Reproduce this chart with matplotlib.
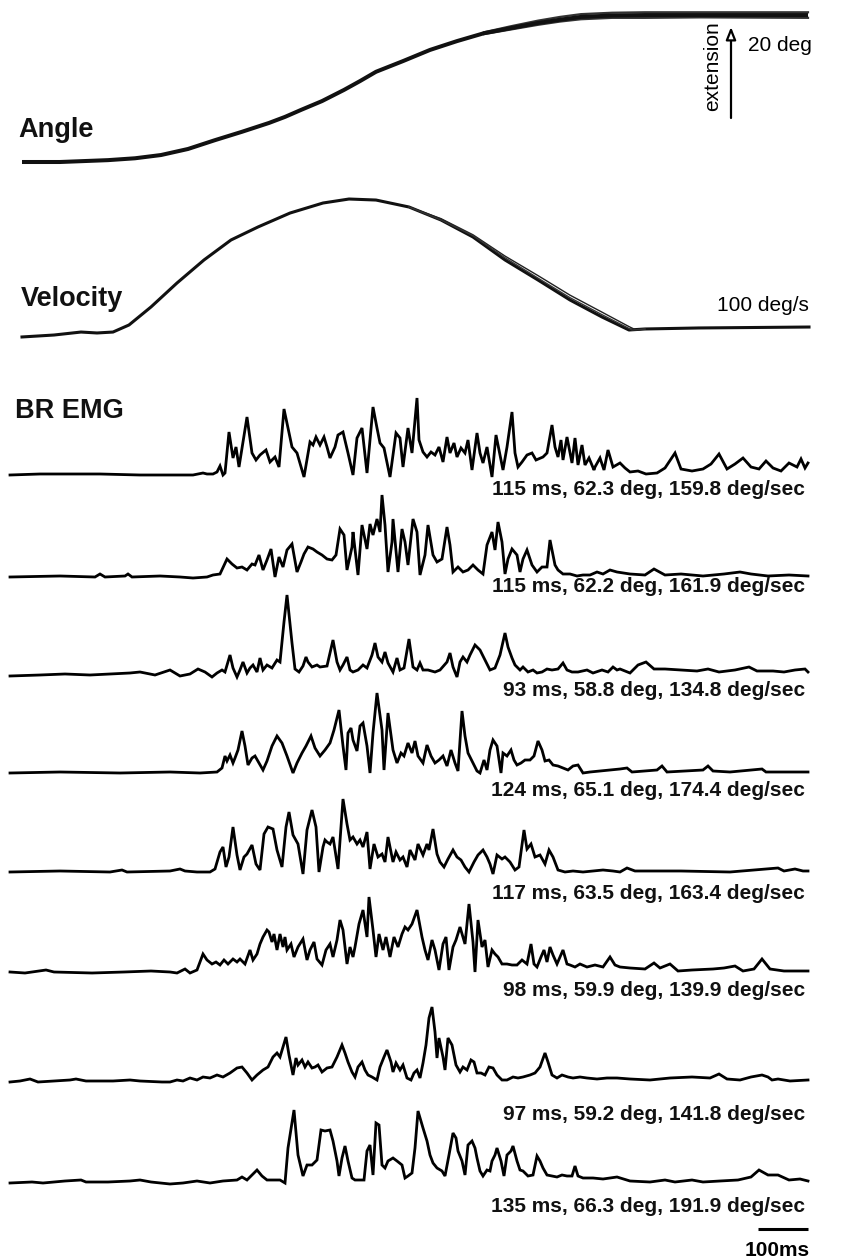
import matplotlib
matplotlib.use("Agg")
import matplotlib.pyplot as plt

plt.rcParams["font.family"] = ["Liberation Sans", "DejaVu Sans"]

# ---- kinematics (time in ms, angle in deg, velocity in deg/s) ----
angle_t = [24, 100, 196, 250, 302, 356, 410, 464, 518, 550, 582, 624, 668, 700, 732,
           786, 840, 894, 948, 1002, 1056, 1100, 1142, 1204, 1270, 1380, 1596]
angle_deg = [0, 0, 0.4, 0.8, 1.5, 2.8, 4.7, 6.5, 8.4, 9.7, 11.2, 13.1, 15.5, 17.4, 19.4,
             21.7, 24.1, 26.0, 27.7, 28.8, 29.9, 30.6, 31.2, 31.5, 31.6, 31.6, 31.6]
# other trials, only where they separate (end of movement / plateau)
angle2_t = [948, 1002, 1056, 1100, 1142, 1204, 1270, 1380, 1596]
angle2_deg = [27.9, 29.2, 30.4, 31.2, 31.8, 32.1, 32.2, 32.2, 32.2]
angle3_t = [948, 1002, 1056, 1100, 1142, 1204, 1270, 1380, 1596]
angle3_deg = [27.5, 28.5, 29.5, 30.2, 30.7, 31.0, 31.0, 31.1, 31.0]

vel_t = [24, 88, 142, 174, 206, 238, 282, 334, 388, 442, 496, 560, 626, 678, 732,
         798, 862, 926, 990, 1056, 1120, 1184, 1238, 1270, 1378, 1598]
vel_dps = [-8.2, -5.9, -2.4, -3.5, -2.4, 5.9, 27.1, 55.3, 82.4, 105.9, 121.2, 137.6, 149.4,
           154.1, 152.9, 144.7, 129.4, 109.4, 82.4, 58.8, 35.3, 15.3, 0, 1.2, 2.4, 3.5]
vel2_t = [798, 862, 926, 990, 1056, 1120, 1184, 1238, 1252, 1270]
vel2_dps = [144.7, 131, 112, 87, 64, 41, 21, 4, 0, 1.2]
vel3_t = [798, 862, 926, 990, 1056, 1120, 1184, 1244, 1270]
vel3_dps = [144.7, 129.4, 111, 85, 61, 38, 18, 0, 1.2]

# ---- rectified BR EMG, 8 trials (time in ms, amplitude in a.u.) ----
emg1_t = [0, 60, 180, 260, 340, 366, 386, 394, 406, 414, 420, 426, 430, 438, 446, 452, 458, 474, 484, 492,
          500, 512, 520, 530, 538, 548, 564, 574, 588, 600, 606, 612, 620, 628, 634, 640, 650, 656, 666, 676,
          686, 694, 704, 714, 726, 734, 740, 748, 760, 772, 780, 786, 796, 804, 814, 818, 826, 834, 842, 850,
          858, 866, 874, 880, 888, 894, 902, 910, 916, 924, 934, 940, 946, 954, 964, 972, 978, 986, 994, 1004,
          1010, 1016, 1024, 1034, 1044, 1052, 1066, 1074, 1084, 1090, 1096, 1102, 1106, 1114, 1124, 1130, 1136,
          1144, 1150, 1158, 1168, 1170, 1180, 1188, 1196, 1206, 1220, 1230, 1240, 1256, 1272, 1294, 1310, 1330,
          1342, 1364, 1386, 1402, 1418, 1434, 1450, 1466, 1482, 1498, 1512, 1526, 1542, 1558, 1574, 1582, 1590,
          1596]
emg1_a = [0, 1, 1, 0, 0, 0, 2, 1, 1, 3, 9, 0, 2, 43, 17, 28, 8, 58, 22, 15,
          20, 25, 13, 18, 8, 66, 28, 22, -2, 33, 30, 38, 30, 38, 28, 17, 28, 40, 43, 22,
          0, 37, 47, 2, 68, 47, 32, 27, -2, 42, 37, 8, 47, 22, 77, 35, 23, 18, 23, 20,
          28, 13, 38, 22, 32, 18, 27, 22, 35, 5, 42, 22, 12, 28, -2, 40, 25, 5, 28, 63,
          22, 8, 13, 20, 22, 15, 18, 22, 50, 28, 18, 35, 15, 38, 12, 37, 10,
          30, 10, 17, 5, 8, 17, 5, 25, 8, 12, 7, 3, 4, 1, 2, 7, 22,
          6, 4, 6, 11, 21, 6, 11, 17, 8, 6, 14, 7, 4, 12, 8, 16, 7,
          12]

emg2_t = [0, 100, 170, 180, 190, 230, 236, 244, 300, 340, 366, 394, 406, 420, 434, 444, 454, 464, 474, 484,
          490, 498, 506, 514, 522, 530, 538, 546, 554, 564, 574, 582, 588, 596, 606, 614, 624, 634, 644, 652,
          660, 668, 674, 684, 686, 696, 704, 714, 720, 726, 734, 740, 744, 750, 756, 764, 766, 776, 784, 790,
          796, 806, 814, 820, 830, 836, 846, 854, 864, 874, 880, 886, 896, 906, 916, 926, 936, 946, 954, 964,
          970, 976, 984, 990, 996, 1004, 1014, 1020, 1026, 1034, 1044, 1054, 1064, 1074, 1080, 1090, 1096, 1106,
          1120, 1134, 1146, 1160, 1174, 1186, 1200, 1214, 1240, 1270, 1288, 1310, 1342, 1386, 1428, 1460, 1482,
          1516, 1558, 1596]
emg2_a = [0, 1, 0, 3, 0, 1, 3, 0, 1, 0, -1, 0, 2, 3, 18, 13, 9, 10, 7, 13,
          12, 22, 7, 17, 28, 0, 20, 10, 27, 33, 5, 15, 23, 30, 28, 25, 22, 18, 17, 22,
          48, 42, 7, 30, 45, 2, 52, 28, 53, 42, 58, 45, 82, 52, 5, 35, 58, 5, 48, 35,
          12, 58, 45, 2, 22, 52, 22, 15, 18, 50, 32, 5, 10, 5, 7, 12, 7, 3, 32, 45,
          27, 55, 35, 3, 18, 28, 22, 5, 18, 27, 12, 5, 10, 10, 37, 12, 7, 3,
          3, 1, 2, 2, 5, 3, 7, 5, 3, 2, 8, 2, 3, 1, 3, 5, 3,
          1, 2, 1]

emg3_t = [0, 60, 110, 160, 240, 260, 290, 320, 340, 360, 376, 390, 404, 414, 424, 430, 440, 446, 454, 460,
          466, 474, 480, 486, 494, 500, 506, 514, 524, 534, 540, 548, 554, 564, 570, 578, 586, 592, 596, 604,
          614, 620, 634, 646, 654, 660, 666, 674, 680, 686, 696, 706, 714, 724, 730, 736, 744, 750, 756, 766,
          774, 780, 788, 798, 806, 814, 820, 826, 836, 850, 860, 874, 880, 886, 894, 900, 906, 914, 920, 930,
          940, 950, 960, 970, 980, 990, 996, 1004, 1010, 1020, 1026, 1036, 1046, 1054, 1064, 1074, 1084, 1096,
          1106, 1114, 1124, 1136, 1154, 1166, 1184, 1196, 1206, 1214, 1220, 1240, 1256, 1272, 1288, 1310, 1342,
          1374, 1396, 1418, 1450, 1478, 1494, 1526, 1548, 1570, 1590, 1596]
emg3_a = [0, 1, 2, 1, 3, 4, 1, 6, 0, 2, 7, 4, -1, 3, 6, 4, 21, 8, -1, 6,
          14, 3, 8, 11, 4, 18, 6, 11, 8, 16, 14, 54, 81, 33, 7, 4, 10, 19, 14, 9,
          11, 9, 10, 36, 14, 6, 11, 19, 6, 4, 6, 11, 8, 21, 33, 19, 14, 24, 13, 4,
          18, 6, 8, 37, 9, 6, 13, 6, 6, 4, 6, 14, 23, 9, -1, 14, 19, 14, 21, 31,
          26, 16, 6, 8, 21, 43, 29, 18, 11, 6, 9, 4, 6, 3, 4, 7, 6, 7,
          13, 6, 4, 4, 6, 3, 6, 4, 9, 6, 7, 3, 11, 14, 7, 7, 6,
          5, 7, 4, 6, 9, 5, 5, 4, 6, 7, 4]

emg4_t = [0, 100, 220, 320, 380, 414, 424, 430, 434, 440, 446, 450, 456, 464, 470, 476, 484, 490, 498, 506,
          514, 524, 534, 544, 554, 566, 574, 584, 592, 602, 610, 620, 630, 640, 648, 658, 666, 672, 676, 682,
          686, 694, 700, 706, 714, 720, 726, 734, 744, 748, 756, 766, 774, 782, 788, 796, 804, 810, 816, 826,
          834, 842, 850, 858, 866, 874, 882, 890, 896, 904, 910, 916, 926, 934, 940, 948, 954, 960, 966, 974,
          982, 986, 994, 1002, 1008, 1014, 1022, 1030, 1040, 1048, 1056, 1064, 1070, 1078, 1086, 1096, 1106,
          1116, 1126, 1136, 1146, 1160, 1180, 1200, 1220, 1234, 1244, 1294, 1304, 1314, 1386, 1396, 1406, 1440,
          1504, 1512, 1596]
emg4_a = [0, 1, 0, 1, 0, 1, 5, 17, 12, 18, 10, 15, 23, 42, 27, 8, 15, 17, 10, 3,
          12, 27, 37, 30, 17, 0, 10, 20, 27, 37, 25, 17, 23, 30, 43, 63, 27, 3, 40, 45,
          33, 22, 47, 50, 27, 0, 40, 80, 43, 3, 60, 23, 10, 20, 17, 30, 20, 32, 17, 10,
          28, 17, 10, 13, 17, 7, 23, 10, 2, 62, 37, 20, 10, 2, 0, 13, 3, 23, 33, 27,
          0, 20, 17, 23, 13, 8, 10, 13, 13, 17, 32, 23, 12, 13, 8, 7, 5,
          3, 7, 8, 0, 1, 2, 3, 4, 5, 1, 3, 7, 1, 3, 7, 2, 1,
          4, 1, 1]

emg5_t = [0, 100, 200, 224, 234, 320, 340, 350, 374, 400, 410, 420, 426, 432, 438, 446, 454, 460, 468, 474,
          484, 492, 500, 508, 516, 526, 534, 544, 552, 558, 566, 576, 586, 594, 604, 612, 618, 626, 630, 634,
          640, 646, 656, 666, 674, 680, 686, 694, 700, 706, 714, 720, 728, 736, 744, 750, 756, 766, 772, 780,
          786, 794, 800, 810, 816, 826, 834, 838, 846, 854, 860, 868, 876, 886, 894, 902, 910, 918, 928, 936,
          946, 954, 960, 966, 974, 984, 990, 1000, 1010, 1018, 1028, 1034, 1042, 1050, 1060, 1070, 1078, 1086,
          1096, 1110, 1126, 1146, 1166, 1186, 1206, 1220, 1234, 1250, 1342, 1440, 1536, 1548, 1570, 1586, 1596]
emg5_a = [0, 1, 0, 2, 0, 1, 3, 1, 0, 0, 3, 20, 25, 5, 15, 45, 17, 2, 15, 18,
          27, 8, 2, 38, 45, 43, 22, 5, 45, 60, 37, 28, -2, 42, 62, 45, 0, 25, 32, 30,
          28, 35, 3, 73, 48, 32, 35, 28, 32, 25, 40, 3, 28, 15, 18, 10, 35, 10, 20, 12,
          15, 5, 22, 12, 28, 17, 28, 22, 43, 18, 10, 5, 13, 22, 15, 12, 5, 0, 10, 17,
          22, 15, 8, -2, 17, 13, 15, 10, 2, 5, 42, 23, 28, 15, 17, 8, 22, 15,
          2, 0, 1, 0, 1, 2, 1, 0, 4, 1, 1, 0, 4, 1, 3, 1, 1]

emg6_t = [0, 30, 72, 88, 164, 228, 282, 320, 334, 350, 360, 374, 386, 394, 404, 412, 420, 428, 436, 446,
          454, 460, 470, 480, 486, 494, 500, 506, 514, 518, 524, 528, 534, 540, 546, 550, 554, 562, 568, 576,
          586, 594, 600, 608, 614, 624, 632, 640, 646, 654, 660, 666, 674, 680, 686, 690, 698, 706, 714, 718,
          726, 732, 738, 746, 752, 760, 768, 776, 784, 790, 796, 804, 814, 824, 830, 836, 844, 850, 858, 866,
          872, 878, 886, 892, 900, 910, 918, 926, 930, 936, 944, 950, 956, 964, 970, 976, 984, 994, 1004, 1014,
          1024, 1034, 1042, 1048, 1054, 1062, 1068, 1074, 1080, 1086, 1094, 1100, 1106, 1114, 1120, 1130, 1140,
          1154, 1170, 1186, 1200, 1210, 1220, 1240, 1270, 1288, 1300, 1320, 1336, 1364, 1406, 1428, 1450, 1466,
          1488, 1504, 1520, 1548, 1596]
emg6_a = [0, -1, 2, 0, -1, 0, 1, 0, -1, 3, -1, 2, 18, 12, 8, 10, 7, 12, 8, 13,
          10, 13, 8, 22, 12, 18, 28, 35, 42, 40, 30, 38, 22, 38, 25, 35, 22, 28, 15, 25,
          33, 12, 22, 30, 13, 7, 22, 28, 15, 32, 52, 42, 8, 25, 15, 25, 48, 62, 35, 75,
          42, 15, 38, 22, 35, 15, 35, 25, 38, 45, 42, 48, 62, 35, 22, 12, 32, 22, 2, 28,
          35, 2, 25, 32, 45, 28, 68, 30, 0, 52, 25, 32, 5, 22, 18, 15, 8, 8, 7, 7,
          12, 8, 28, 8, 5, 15, 22, 10, 25, 17, 8, 15, 22, 8, 7, 5, 8,
          5, 7, 5, 15, 7, 5, 4, 3, 9, 4, 8, 1, 2, 3, 4, 6, 1,
          3, 13, 3, 1, 1]

emg7_t = [0, 20, 40, 56, 88, 120, 132, 152, 206, 240, 260, 304, 320, 334, 346, 360, 374, 386, 400, 414,
          426, 440, 454, 464, 474, 484, 494, 506, 516, 526, 534, 540, 546, 552, 558, 566, 572, 576, 584, 590,
          596, 604, 610, 616, 624, 634, 644, 654, 664, 670, 676, 684, 690, 696, 704, 710, 716, 724, 734, 740,
          748, 754, 762, 766, 772, 780, 786, 794, 802, 808, 814, 820, 826, 832, 838, 844, 850, 854, 858, 866,
          870, 876, 884, 892, 900, 906, 914, 922, 928, 934, 942, 950, 958, 966, 974, 984, 994, 1006, 1016, 1026,
          1040, 1050, 1060, 1070, 1076, 1084, 1094, 1104, 1116, 1126, 1140, 1154, 1174, 1194, 1214, 1240, 1280,
          1320, 1364, 1400, 1418, 1434, 1460, 1482, 1504, 1516, 1524, 1536, 1560, 1596]
emg7_a = [-1, 0, 2, -1, 0, 1, 2, 0, 0, 1, 0, -1, -1, 1, 0, 3, 1, 4, 3, 6,
          4, 8, 13, 14, 8, 1, 6, 11, 14, 24, 28, 24, 34, 44, 26, 6, 23, 16, 21, 14,
          19, 13, 14, 16, 9, 13, 14, 24, 36, 28, 19, 9, 4, 14, 19, 11, 6, 4, 1, 14,
          24, 31, 19, 9, 18, 11, 16, 3, 1, 8, 11, 3, 18, 36, 63, 74, 49, 23, 43, 24,
          11, 43, 36, 16, 9, 14, 11, 21, 19, 8, 8, 6, 14, 13, 6, 1, 1, 4, 3, 4,
          6, 8, 14, 28, 19, 6, 3, 6, 4, 3, 4, 3, 2, 3, 3, 2, 1,
          3, 4, 3, 7, 2, 1, 4, 6, 4, 1, 2, 0, 1]

emg8_t = [0, 44, 66, 88, 110, 142, 152, 196, 240, 260, 282, 320, 346, 374, 400, 426, 454, 464, 474, 484,
          494, 504, 514, 526, 540, 550, 556, 568, 576, 586, 594, 604, 614, 622, 630, 640, 646, 654, 658, 664,
          670, 676, 684, 690, 700, 708, 714, 720, 726, 732, 738, 744, 750, 756, 766, 774, 784, 790, 796, 804,
          810, 816, 826, 834, 840, 846, 854, 864, 870, 878, 886, 892, 896, 904, 910, 916, 924, 930, 934, 940,
          946, 954, 960, 964, 970, 974, 982, 988, 994, 1002, 1006, 1014, 1020, 1026, 1036, 1046, 1054, 1060,
          1066, 1074, 1084, 1094, 1104, 1114, 1124, 1130, 1136, 1146, 1166, 1186, 1214, 1240, 1280, 1310, 1330,
          1364, 1386, 1420, 1456, 1482, 1498, 1516, 1536, 1558, 1580, 1596]
emg8_a = [0, 1, 0, 1, 2, 3, 1, 1, 2, 3, 1, -1, 0, 2, 0, 2, 3, 6, 3, 8,
          13, 7, 3, 3, 3, 0, 35, 73, 28, 7, 18, 18, 23, 53, 52, 53, 42, 22, 7, 25,
          37, 22, 5, 3, 3, 3, 32, 38, 8, 60, 58, 18, 15, 22, 25, 22, 18, 5, 7, 10,
          35, 72, 55, 42, 28, 20, 15, 12, 7, 28, 50, 45, 32, 22, 8, 38, 42, 35, 25, 12,
          7, 13, 12, 22, 28, 35, 22, 7, 28, 32, 37, 22, 13, 12, 7, 8, 27, 22,
          15, 8, 7, 6, 8, 7, 7, 17, 7, 5, 5, 4, 6, 2, 1, 3, 1,
          3, 1, 2, 3, 6, 13, 8, 8, 3, 4, 2]

emg_t = [emg1_t, emg2_t, emg3_t, emg4_t, emg5_t, emg6_t, emg7_t, emg8_t]
emg_a = [emg1_a, emg2_a, emg3_a, emg4_a, emg5_a, emg6_a, emg7_a, emg8_a]

# onset latency, peak angle, peak velocity per trial
trial_labels = [
    "115 ms, 62.3 deg, 159.8 deg/sec",
    "115 ms, 62.2 deg, 161.9 deg/sec",
    "93 ms, 58.8 deg, 134.8 deg/sec",
    "124 ms, 65.1 deg, 174.4 deg/sec",
    "117 ms, 63.5 deg, 163.4 deg/sec",
    "98 ms, 59.9 deg, 139.9 deg/sec",
    "97 ms, 59.2 deg, 141.8 deg/sec",
    "135 ms, 66.3 deg, 191.9 deg/sec",
]

# ---- layout (vertical units of the canvas, y grows downward) ----
ANGLE_BASE, ANGLE_GAIN = 162, 4.65
VEL_BASE, VEL_GAIN = 330, 0.85
EMG_BASE = [475, 577, 676, 773, 872, 972, 1081, 1183]
LABEL_Y = [489, 586, 690, 790, 893, 990, 1114, 1207]
BAR_MS = 100


def place(vals, base, gain):
    return [base - v * gain for v in vals]


fig = plt.figure(figsize=(8.43, 12.59), dpi=100)
ax = fig.add_axes([0, 0, 1, 1])
ax.set_xlim(-20, 1666)
ax.set_ylim(1259, 0)
ax.axis("off")

# angle
ax.plot(angle2_t, place(angle2_deg, ANGLE_BASE, ANGLE_GAIN), color="#333333", lw=1.6)
ax.plot(angle3_t, place(angle3_deg, ANGLE_BASE, ANGLE_GAIN), color="#333333", lw=1.6)
ax.plot(angle_t, place(angle_deg, ANGLE_BASE, ANGLE_GAIN), color="#111111", lw=2.9,
        solid_capstyle="butt")

# velocity
ax.plot(vel_t, place(vel_dps, VEL_BASE, VEL_GAIN), color="#111111", lw=2.2)
ax.plot(vel2_t, place(vel2_dps, VEL_BASE, VEL_GAIN), color="#222222", lw=1.0)
ax.plot(vel3_t, place(vel3_dps, VEL_BASE, VEL_GAIN), color="#333333", lw=1.0)

# EMG traces
for t, a, base in zip(emg_t, emg_a, EMG_BASE):
    ax.plot(t, place(a, base, 1.0), color="black", lw=2.0, solid_joinstyle="miter")

big = dict(fontsize=19.5, fontweight="bold", color="#111111")
ax.text(16, 137, "Angle", va="baseline", ha="left", **big)
ax.text(22, 306, "Velocity", va="baseline", ha="left", **big)
ax.text(10, 418, "BR EMG", va="baseline", ha="left", **big)

for lab, y in zip(trial_labels, LABEL_Y):
    ax.text(1590, y, lab, ha="right", va="center", fontsize=15, fontweight="bold", color="#111111")

# angle scale: 20 deg arrow, extension upward
ax.annotate("", xy=(1442, 27), xytext=(1442, 118),
            arrowprops=dict(arrowstyle="-|>,head_length=0.75,head_width=0.3", lw=1.6,
                            fc="white", ec="black", shrinkA=0, shrinkB=0))
ax.text(1406, 66, "extension", rotation=90, ha="center", va="center", fontsize=15)
ax.text(1476, 45, "20 deg", ha="left", va="center", fontsize=15)
ax.text(1598, 305, "100 deg/s", ha="right", va="center", fontsize=15)

# time scale bar
ax.plot([1596 - BAR_MS, 1596], [1229, 1229], color="black", lw=2.2, solid_capstyle="butt")
ax.text(1600, 1250, "100ms", ha="right", va="center", fontsize=15, fontweight="bold")

fig.savefig("out.png", dpi=100, facecolor="white")
